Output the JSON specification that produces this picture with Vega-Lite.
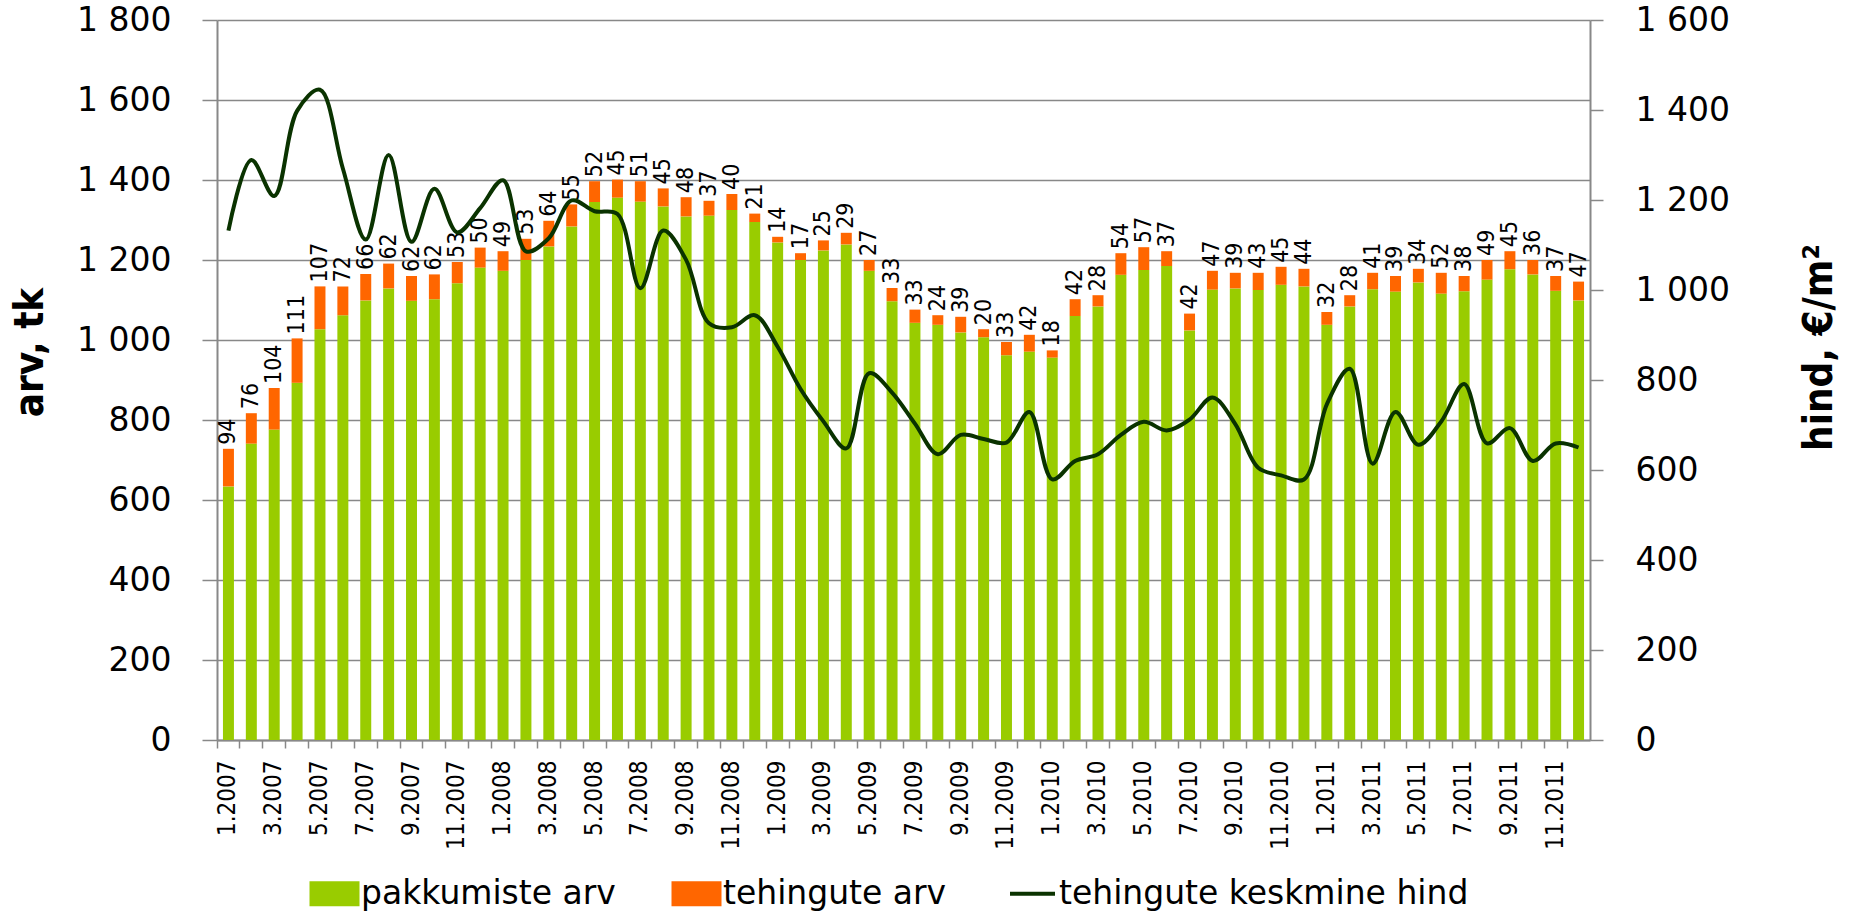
{
  "$schema": "https://vega.github.io/schema/vega-lite/v6.json",
  "width": 1373,
  "height": 720,
  "autosize": {"type": "none"},
  "padding": {"left": 217, "top": 20, "right": 261, "bottom": 176},
  "background": "white",
  "config": {"view": {"stroke": null}, "font": "DejaVu Sans"},
  "data": {
    "values": [
      {"m": "1.2007", "pakkumiste arv": 634, "tehingute arv": 94, "hind": 1132},
      {"m": "2.2007", "pakkumiste arv": 741, "tehingute arv": 76, "hind": 1289},
      {"m": "3.2007", "pakkumiste arv": 776, "tehingute arv": 104, "hind": 1209},
      {"m": "4.2007", "pakkumiste arv": 893, "tehingute arv": 111, "hind": 1398},
      {"m": "5.2007", "pakkumiste arv": 1027, "tehingute arv": 107, "hind": 1445},
      {"m": "6.2007", "pakkumiste arv": 1062, "tehingute arv": 72, "hind": 1270},
      {"m": "7.2007", "pakkumiste arv": 1099, "tehingute arv": 66, "hind": 1112},
      {"m": "8.2007", "pakkumiste arv": 1129, "tehingute arv": 62, "hind": 1300},
      {"m": "9.2007", "pakkumiste arv": 1098, "tehingute arv": 62, "hind": 1107},
      {"m": "10.2007", "pakkumiste arv": 1102, "tehingute arv": 62, "hind": 1225},
      {"m": "11.2007", "pakkumiste arv": 1142, "tehingute arv": 53, "hind": 1128},
      {"m": "12.2007", "pakkumiste arv": 1181, "tehingute arv": 50, "hind": 1182},
      {"m": "1.2008", "pakkumiste arv": 1173, "tehingute arv": 49, "hind": 1244},
      {"m": "2.2008", "pakkumiste arv": 1200, "tehingute arv": 53, "hind": 1086},
      {"m": "3.2008", "pakkumiste arv": 1234, "tehingute arv": 64, "hind": 1115},
      {"m": "4.2008", "pakkumiste arv": 1284, "tehingute arv": 55, "hind": 1199},
      {"m": "5.2008", "pakkumiste arv": 1345, "tehingute arv": 52, "hind": 1175},
      {"m": "6.2008", "pakkumiste arv": 1356, "tehingute arv": 45, "hind": 1169},
      {"m": "7.2008", "pakkumiste arv": 1346, "tehingute arv": 51, "hind": 1004},
      {"m": "8.2008", "pakkumiste arv": 1334, "tehingute arv": 45, "hind": 1132},
      {"m": "9.2008", "pakkumiste arv": 1309, "tehingute arv": 48, "hind": 1067},
      {"m": "10.2008", "pakkumiste arv": 1311, "tehingute arv": 37, "hind": 926},
      {"m": "11.2008", "pakkumiste arv": 1325, "tehingute arv": 40, "hind": 917},
      {"m": "12.2008", "pakkumiste arv": 1295, "tehingute arv": 21, "hind": 944},
      {"m": "1.2009", "pakkumiste arv": 1244, "tehingute arv": 14, "hind": 874},
      {"m": "2.2009", "pakkumiste arv": 1200, "tehingute arv": 17, "hind": 780},
      {"m": "3.2009", "pakkumiste arv": 1224, "tehingute arv": 25, "hind": 708},
      {"m": "4.2009", "pakkumiste arv": 1239, "tehingute arv": 29, "hind": 648},
      {"m": "5.2009", "pakkumiste arv": 1173, "tehingute arv": 27, "hind": 815},
      {"m": "6.2009", "pakkumiste arv": 1097, "tehingute arv": 33, "hind": 772},
      {"m": "7.2009", "pakkumiste arv": 1043, "tehingute arv": 33, "hind": 703},
      {"m": "8.2009", "pakkumiste arv": 1038, "tehingute arv": 24, "hind": 635},
      {"m": "9.2009", "pakkumiste arv": 1019, "tehingute arv": 39, "hind": 678},
      {"m": "10.2009", "pakkumiste arv": 1007, "tehingute arv": 20, "hind": 669},
      {"m": "11.2009", "pakkumiste arv": 962, "tehingute arv": 33, "hind": 661},
      {"m": "12.2009", "pakkumiste arv": 971, "tehingute arv": 42, "hind": 729},
      {"m": "1.2010", "pakkumiste arv": 956, "tehingute arv": 18, "hind": 579},
      {"m": "2.2010", "pakkumiste arv": 1060, "tehingute arv": 42, "hind": 620},
      {"m": "3.2010", "pakkumiste arv": 1084, "tehingute arv": 28, "hind": 635},
      {"m": "4.2010", "pakkumiste arv": 1163, "tehingute arv": 54, "hind": 678},
      {"m": "5.2010", "pakkumiste arv": 1175, "tehingute arv": 57, "hind": 707},
      {"m": "6.2010", "pakkumiste arv": 1185, "tehingute arv": 37, "hind": 688},
      {"m": "7.2010", "pakkumiste arv": 1024, "tehingute arv": 42, "hind": 712},
      {"m": "8.2010", "pakkumiste arv": 1126, "tehingute arv": 47, "hind": 761},
      {"m": "9.2010", "pakkumiste arv": 1129, "tehingute arv": 39, "hind": 702},
      {"m": "10.2010", "pakkumiste arv": 1125, "tehingute arv": 43, "hind": 605},
      {"m": "11.2010", "pakkumiste arv": 1138, "tehingute arv": 45, "hind": 588},
      {"m": "12.2010", "pakkumiste arv": 1134, "tehingute arv": 44, "hind": 579},
      {"m": "1.2011", "pakkumiste arv": 1038, "tehingute arv": 32, "hind": 746},
      {"m": "2.2011", "pakkumiste arv": 1084, "tehingute arv": 28, "hind": 825},
      {"m": "3.2011", "pakkumiste arv": 1127, "tehingute arv": 41, "hind": 614},
      {"m": "4.2011", "pakkumiste arv": 1121, "tehingute arv": 39, "hind": 729},
      {"m": "5.2011", "pakkumiste arv": 1144, "tehingute arv": 34, "hind": 656},
      {"m": "6.2011", "pakkumiste arv": 1116, "tehingute arv": 52, "hind": 708},
      {"m": "7.2011", "pakkumiste arv": 1122, "tehingute arv": 38, "hind": 791},
      {"m": "8.2011", "pakkumiste arv": 1151, "tehingute arv": 49, "hind": 659},
      {"m": "9.2011", "pakkumiste arv": 1177, "tehingute arv": 45, "hind": 693},
      {"m": "10.2011", "pakkumiste arv": 1164, "tehingute arv": 36, "hind": 620},
      {"m": "11.2011", "pakkumiste arv": 1123, "tehingute arv": 37, "hind": 659},
      {"m": "12.2011", "pakkumiste arv": 1099, "tehingute arv": 47, "hind": 650}
    ]
  },
  "encoding": {
    "x": {
      "field": "m",
      "type": "nominal",
      "sort": null,
      "scale": {"paddingInner": 0, "paddingOuter": 0},
      "axis": {
        "title": null,
        "labelAngle": 270,
        "labelExpr": "indexof(['1','3','5','7','9','11'], split(datum.value, '.')[0]) >= 0 ? datum.value : ''",
        "labelOverlap": false,
        "bandPosition": 0,
        "ticks": true,
        "tickSize": 8,
        "tickColor": "#888888",
        "tickWidth": 1.5,
        "domainColor": "#888888",
        "domainWidth": 2,
        "grid": false,
        "labelFont": "Liberation Sans Narrow, DejaVu Sans Condensed, sans-serif",
        "labelFontSize": 24,
        "labelPadding": 12,
        "labelColor": "black"
      }
    }
  },
  "layer": [
    {
      "layer": [
        {
          "transform": [{"fold": ["pakkumiste arv", "tehingute arv"], "as": ["series", "value"]}],
          "mark": {"type": "bar", "width": {"band": 0.48}},
          "encoding": {
            "y": {
              "field": "value",
              "type": "quantitative",
              "stack": "zero",
              "scale": {"domain": [0, 1800], "nice": false},
              "axis": {
                "title": "arv, tk",
                "titleFont": "Liberation Sans Narrow, DejaVu Sans Condensed, sans-serif",
                "titleFontWeight": "bold",
                "titleFontSize": 40,
                "titleColor": "black",
                "titleX": -187,
                "titleY": 332,
                "titleAngle": 270,
                "titleAlign": "center",
                "titleBaseline": "middle",
                "values": [0, 200, 400, 600, 800, 1000, 1200, 1400, 1600, 1800],
                "labelExpr": "replace(format(datum.value, ','), ',', ' ')",
                "labelFont": "DejaVu Sans",
                "labelFontSize": 33,
                "labelColor": "black",
                "labelPadding": 31,
                "tickSize": 15,
                "tickColor": "#888888",
                "tickWidth": 1.5,
                "domainColor": "#888888",
                "domainWidth": 2,
                "grid": true,
                "gridColor": "#888888",
                "gridWidth": 1.5
              }
            },
            "color": {
              "field": "series",
              "type": "nominal",
              "scale": {
                "domain": ["pakkumiste arv", "tehingute arv", "tehingute keskmine hind"],
                "range": ["#99cc00", "#ff6600", "#0a3300"]
              },
              "legend": {
                "orient": "none",
                "legendX": 101,
                "legendY": 857,
                "direction": "horizontal",
                "title": null,
                "symbolType": "M-1,-0.5H1V0.5H-1Z",
                "symbolSize": 2500,
                "labelFont": "DejaVu Sans",
                "labelFontSize": 33,
                "labelColor": "black",
                "labelOffset": 10,
                "columnPadding": 55,
                "labelLimit": 0,
                "padding": 0,
                "encode": {
                  "symbols": {
                    "update": {
                      "shape": {"signal": "datum.label == 'tehingute keskmine hind' ? 'M-0.9,0H0.9' : 'M-1,-0.5H1V0.5H-1Z'"},
                      "stroke": {"signal": "scale('color', datum.value)"},
                      "strokeWidth": {"signal": "datum.label == 'tehingute keskmine hind' ? 4 : 0"},
                      "fill": {"signal": "datum.label == 'tehingute keskmine hind' ? 'transparent' : scale('color', datum.value)"},
                      "opacity": {"value": 1}
                    }
                  }
                }
              }
            },
            "order": {"field": "series"}
          }
        },
        {
          "transform": [{"fold": ["pakkumiste arv", "tehingute arv"], "as": ["series", "value"]}],
          "mark": {
            "type": "text",
            "angle": 270,
            "align": "left",
            "baseline": "middle",
            "yOffset": -4,
            "font": "Liberation Sans Narrow, DejaVu Sans Condensed, sans-serif",
            "fontSize": 23,
            "color": "black"
          },
          "encoding": {
            "y": {
              "aggregate": "sum",
              "field": "value",
              "type": "quantitative",
              "scale": {"domain": [0, 1800], "nice": false},
              "title": "arv, tk"
            },
            "text": {"aggregate": "max", "field": "tehingute arv", "type": "quantitative"}
          }
        }
      ]
    },
    {
      "mark": {"type": "line", "interpolate": "catmull-rom", "strokeWidth": 4},
      "encoding": {
        "y": {
          "field": "hind",
          "type": "quantitative",
          "scale": {"domain": [0, 1600], "nice": false},
          "axis": {
            "orient": "right",
            "title": "hind, €/m²",
            "titleFont": "Liberation Sans Narrow, DejaVu Sans Condensed, sans-serif",
            "titleFontWeight": "bold",
            "titleFontSize": 40,
            "titleColor": "black",
            "titleX": 229,
            "titleY": 327,
            "titleAngle": 270,
            "titleAlign": "center",
            "titleBaseline": "middle",
            "values": [0, 200, 400, 600, 800, 1000, 1200, 1400, 1600],
            "labelExpr": "replace(format(datum.value, ','), ',', ' ')",
            "labelFont": "DejaVu Sans",
            "labelFontSize": 33,
            "labelColor": "black",
            "labelPadding": 32,
            "tickSize": 13,
            "tickColor": "#888888",
            "tickWidth": 1.5,
            "domainColor": "#888888",
            "domainWidth": 2,
            "grid": false
          }
        },
        "color": {"datum": "tehingute keskmine hind", "type": "nominal"}
      }
    }
  ],
  "resolve": {"scale": {"y": "independent"}}
}
